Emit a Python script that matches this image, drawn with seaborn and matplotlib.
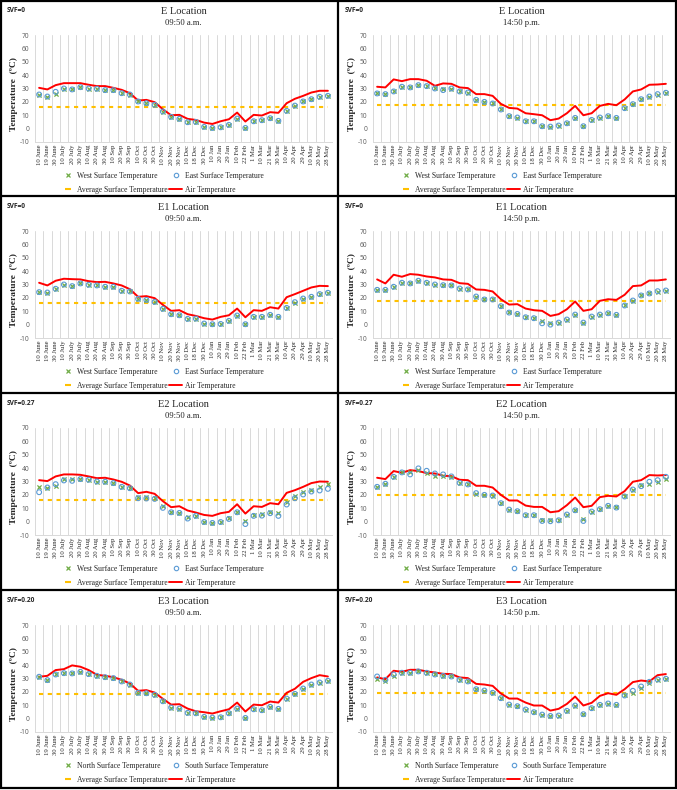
import numpy as np
import pandas as pd
import matplotlib
matplotlib.use("Agg")
import matplotlib.pyplot as plt
from matplotlib.lines import Line2D
from matplotlib.patches import Rectangle
import seaborn as sns

# ---------------- data ----------------
dates = ["10 June", "19 June", "30 June", "10 July", "20 July", "30 July", "10 Aug", "20 Aug",
         "30 Aug", "10 Sep", "20 Sep", "30 Sep", "10 Oct", "20 Oct", "30 Oct", "10 Nov", "20 Nov",
         "30 Nov", "10 Dec", "18 Dec", "30 Dec", "10 Jan", "20 Jan", "29 Jan", "10 Feb", "22 Feb",
         "1 Mar", "10 Mar", "21 Mar", "30 Mar", "10 Apr", "20 Apr", "29 Apr", "10 May", "20 May", "28 May"]
y_ticks = [-10, 0, 10, 20, 30, 40, 50, 60, 70]

E_am_air = [30.5, 29.3, 32.5, 34, 34, 34, 32.8, 31.8, 31.8, 30.5, 29, 26.5, 21, 21.5, 19.8, 14.5, 10, 10.3,
            7.3, 6.5, 4.5, 3.5, 5.5, 7, 12, 5.3, 10.3, 9.8, 12.3, 11.8, 19, 22.3, 24.5, 27, 28.3, 28.3]
E_am_west = [25.5, 24, 25.8, 30, 29.3, 31, 30, 29.8, 28.8, 28.8, 26.5, 25.5, 20.3, 19, 17.8, 12.8, 8.8, 7.3,
             4.8, 5, 1.3, 0.5, 1, 2.8, 7.5, 0.5, 5.5, 6.3, 7.8, 5.8, 13.3, 16.8, 20.3, 22, 23.8, 24.5]
E_am_east = [25.5, 24, 27.5, 30, 29.3, 31, 30, 29.8, 28.8, 28.8, 26.5, 25.5, 20.3, 19, 17.8, 12.8, 8.8, 7.3,
             4.8, 5, 1.3, 0.5, 1, 2.8, 7.5, 0.5, 5.5, 6.3, 7.8, 5.8, 13.3, 17.2, 20.3, 22, 23.8, 24.5]
E_am_avg = 16.5

E_pm_air = [31.3, 30.8, 36.8, 35.5, 37, 37, 35.8, 32, 33.8, 33.5, 30.8, 30.3, 25.8, 25.8, 24.5, 18.5, 15.5, 15,
            11.5, 10.8, 10, 6.3, 7.5, 11.5, 17, 10, 11.5, 17, 18.5, 17.5, 21.8, 27.8, 29.3, 32.8, 33, 33.5]
E_pm_west = [26.3, 25.8, 27.8, 31.3, 30.8, 32.5, 31.8, 30.5, 29.5, 30, 27.8, 27, 21.5, 20, 18.8, 14.3, 9.3, 8.3,
             5.5, 5.5, 1.8, 1.5, 2.3, 4, 8, 1.8, 6.5, 8.3, 9.3, 8, 15.3, 18.3, 22, 24, 25, 26.3]
E_pm_east = [26.3, 25.8, 27.8, 31.3, 30.8, 32.5, 31.8, 30, 28.8, 30, 27.8, 27, 21.5, 20, 18.8, 14.3, 9.3, 8.3,
             5.5, 5.5, 1.8, 1.5, 2.3, 4, 8, 1.8, 6.5, 8.3, 9.3, 8, 15.3, 18.3, 22, 24, 25.8, 26.8]
E_pm_avg = 17.5

E1_am_air = [31.3, 29.3, 32.8, 34.3, 34, 33.8, 32.5, 31.8, 32, 30.8, 29.3, 26.5, 20.8, 21.3, 19.8, 14.8, 10.3, 10.8,
             7.8, 6.5, 4.8, 3.8, 5.8, 7, 12, 5.5, 10.8, 10.3, 13, 12, 20.5, 22.8, 25.3, 27.8, 29, 28.8]
E1_am_west = [24.3, 24, 26.8, 30, 28.8, 30.8, 29.8, 29.3, 28.3, 28.3, 25.3, 24.8, 19.3, 18.5, 17, 11.8, 7.8, 7,
              4.3, 4.5, 0.8, 0.3, 0.5, 2.8, 6.8, 0.3, 5.8, 5.8, 7.3, 5.8, 12.5, 16.5, 19.5, 20.8, 22.8, 23.8]
E1_am_east = [24.3, 24, 26.8, 30, 28.8, 30.8, 29.8, 29.3, 28.3, 28.3, 25.3, 24.8, 19.3, 18.5, 17, 11.8, 7.8, 7,
              4.3, 4.5, 0.8, 0.3, 0.5, 2.8, 6.8, 0.3, 5.8, 5.8, 7.3, 5.8, 12.5, 16.8, 19.5, 20.8, 22.8, 23.8]
E1_am_avg = 16.0

E1_pm_air = [33.8, 30.8, 37.3, 35.8, 37.8, 37.3, 36, 35.3, 33.8, 33.5, 31, 30.5, 26.3, 26, 24.8, 19, 15, 15.3,
             12, 10.8, 10.3, 6.5, 7.8, 11.5, 17.3, 10.3, 11.5, 17.8, 19, 18.5, 22.3, 28.8, 29.3, 33, 33, 33.8]
E1_pm_west = [26, 26, 28.3, 31.3, 30.8, 32.8, 31.3, 30, 29.5, 29.3, 27, 26.3, 21, 19.5, 18.8, 13.8, 9.8, 8,
              5.5, 4.8, 2.5, 1.5, 1.5, 3.8, 7.5, 1.5, 6, 7.5, 8.5, 7.3, 14.3, 18, 21.8, 23.3, 24.5, 25.5]
E1_pm_east = [26, 26, 28.3, 31.3, 30.8, 32.8, 31.3, 30, 29.5, 29.3, 27, 26.3, 21, 18.8, 18.8, 13.8, 9, 8,
              5.5, 4.8, 1, 0, 1.5, 3.8, 7.5, 1.5, 6, 7.5, 8.5, 7.3, 14.3, 18, 21.8, 23.3, 25, 25.5]
E1_pm_avg = 17.8

E2_am_air = [31, 30.3, 33.8, 35.3, 35.3, 35, 33.8, 32.5, 32.8, 31.5, 29.8, 27, 21.3, 22.3, 20.8, 15.3, 10.8, 11.5,
             8.3, 6.8, 5, 4.3, 6.3, 7.3, 13, 6, 11.5, 11, 13.8, 13, 21.5, 23.5, 26, 28.8, 30, 29.8]
E2_am_west = [26, 25.5, 27, 31.8, 31.5, 31.8, 31.3, 30, 29.8, 28.8, 26, 25, 18.5, 18.3, 17.8, 11.5, 7, 6.5,
              3.3, 4.3, -0.3, -1, -0.3, 3, 7, 0.5, 5.3, 5.8, 7.3, 6.5, 14.3, 19.5, 22, 24, 25.8, 27.8]
E2_am_east = [22, 25.5, 28, 30.8, 30.5, 31.8, 31.3, 30, 29.8, 28.8, 26, 25, 17.5, 17.3, 17, 10.3, 7, 6.5,
              2.3, 4.3, -0.3, -1, -0.3, 2, 7, -1.8, 4.3, 4.5, 6.3, 4.3, 12.8, 17.5, 20.3, 22.5, 23.3, 24.5]
E2_am_avg = 16.0

E2_pm_air = [32.8, 31.8, 37.8, 36.5, 38.5, 37.8, 36.3, 36, 34.3, 34, 31.3, 31, 26.8, 26.8, 25.5, 20, 15.8, 15.8,
             12, 11, 11, 7, 7.8, 12.3, 18, 10.8, 11.8, 18.3, 19.3, 18.8, 22.8, 29.8, 31, 34.8, 34.5, 34.8]
E2_pm_west = [26, 28.3, 33.5, 36.8, 36.8, 38.5, 36.3, 33.8, 33.8, 33, 29, 27.8, 20.5, 20, 19.5, 13.8, 9, 7.8,
              4.8, 4.8, 1.5, 1, 1, 5.3, 8.5, 2.3, 7.5, 9.3, 11.8, 11.3, 18.8, 24, 27.3, 28.3, 29.8, 31.8]
E2_pm_east = [26, 28.3, 33.5, 36.8, 35.3, 39.8, 38, 36, 35.3, 33.8, 29, 27.8, 21.3, 20, 19.5, 13.8, 9, 7.8,
              4.8, 4.8, 0.5, 0.3, 1, 5.3, 8.5, 0.5, 7.5, 9.3, 11.8, 10.5, 18.8, 24, 26.5, 29.8, 31, 33.5]
E2_pm_avg = 20.0

E3_am_air = [31.3, 32, 36.3, 37, 39.8, 38.8, 36.3, 32.8, 32, 31, 29, 26.3, 20.8, 21.3, 19.5, 14.8, 10.5, 10.8,
             7.5, 5.5, 4.8, 3.8, 5.5, 7, 12, 5.3, 10.5, 10, 12.8, 12, 19.3, 22.3, 27.5, 30.3, 32.5, 31.5]
E3_am_north = [31.3, 28.8, 33, 34, 33.8, 35, 33.3, 32, 31, 30.3, 27.8, 25.5, 19.3, 19, 17.8, 13, 8.3, 7.5,
               4.3, 4, 1.3, 0.8, 1, 4, 7.5, 0.5, 7, 6.3, 8.8, 7.3, 15, 18.5, 22.5, 25.5, 27, 28.3]
E3_am_south = [31.3, 28.8, 33, 34, 33.8, 35, 33.3, 32, 31, 30.3, 27.8, 25.5, 19.3, 19, 17.8, 13, 8.3, 7.5,
               4.3, 4, 1.3, 0.8, 1, 4, 7.5, 0.5, 7, 6.3, 8.8, 7.3, 15, 18.5, 22.5, 25.5, 27, 28.3]
E3_am_avg = 18.3

E3_pm_air = [30.8, 29.5, 35.8, 35, 36.5, 36.5, 35.3, 34.5, 33.5, 33.3, 30.8, 30.3, 26, 25.5, 24.5, 18.8, 15, 15,
             12, 9.8, 9.8, 6, 7.3, 11, 16.5, 9.8, 11.8, 17, 19, 17.8, 22, 27.3, 28.5, 27.8, 32.5, 33.3]
E3_pm_north = [30, 27.8, 32, 34.3, 34, 35.3, 34.3, 33, 32, 31.5, 29, 27.8, 22, 20.5, 19.3, 15.3, 10.5, 9.3,
               6.8, 4.8, 3, 2, 2.3, 5.8, 9.8, 3.3, 7.8, 10.3, 11.3, 10.3, 17.3, 19.5, 22.8, 26.5, 28.8, 30]
E3_pm_south = [31.5, 29, 33, 34.3, 34.3, 35.3, 34.3, 33, 32, 31.5, 29, 27.8, 22, 21, 19.3, 15.3, 10.5, 9.3,
               6.8, 4.8, 3, 2, 2.3, 5.8, 9.8, 3.3, 7.8, 10.3, 11.3, 10.3, 17.3, 20.8, 24, 27.5, 29.3, 29.8]
E3_pm_avg = 19.5

panels = [
    ("SVF=0", "E Location", "09:50 a.m.", E_am_west, E_am_east, E_am_avg, E_am_air, ("West", "East")),
    ("SVF=0", "E Location", "14:50 p.m.", E_pm_west, E_pm_east, E_pm_avg, E_pm_air, ("West", "East")),
    ("SVF=0", "E1 Location", "09:50 a.m.", E1_am_west, E1_am_east, E1_am_avg, E1_am_air, ("West", "East")),
    ("SVF=0", "E1 Location", "14:50 p.m.", E1_pm_west, E1_pm_east, E1_pm_avg, E1_pm_air, ("West", "East")),
    ("SVF=0.27", "E2 Location", "09:50 a.m.", E2_am_west, E2_am_east, E2_am_avg, E2_am_air, ("West", "East")),
    ("SVF=0.27", "E2 Location", "14:50 p.m.", E2_pm_west, E2_pm_east, E2_pm_avg, E2_pm_air, ("West", "East")),
    ("SVF=0.20", "E3 Location", "09:50 a.m.", E3_am_north, E3_am_south, E3_am_avg, E3_am_air, ("North", "South")),
    ("SVF=0.20", "E3 Location", "14:50 p.m.", E3_pm_north, E3_pm_south, E3_pm_avg, E3_pm_air, ("North", "South")),
]

# ---------------- style ----------------
sns.set_style("white")
plt.rcParams["font.family"] = ["Liberation Serif", "DejaVu Serif"]

W, H = 677, 790
fig = plt.figure(figsize=(W / 100, H / 100), dpi=100)

GREEN = "#70AD47"
BLUE = "#5B9BD5"
ORANGE = "#FFC000"
RED = "#FF0000"
GRID = "#D9D9D9"

row_tops = [0, 196, 393, 590]
col_lefts = [0, 338]


def fx(x):
    return x / W


def fy(y):
    return 1 - y / H


x_pos = np.arange(len(dates))

for i, (svf, title, sub, s1, s2, avg, air, names) in enumerate(panels):
    r, c = divmod(i, 2)
    pl, pt = col_lefts[c], row_tops[r]
    ax_l, ax_r = pl + 35, pl + 332
    ax_t, ax_b = pt + 35, pt + 142
    ax = fig.add_axes([fx(ax_l), fy(ax_b), (ax_r - ax_l) / W, (ax_b - ax_t) / H])

    df = pd.DataFrame({"pos": x_pos, "s1": s1, "s2": s2, "air": air})

    ax.hlines(avg, x_pos[0], x_pos[-1], color=ORANGE, lw=1.5, linestyles=(0, (2, 2.2)), zorder=2)
    sns.lineplot(data=df, x="pos", y="air", ax=ax, color=RED, lw=1.4, zorder=3)
    sns.scatterplot(data=df, x="pos", y="s1", ax=ax, marker="x", color=GREEN, s=9,
                    linewidth=0.9, zorder=4)
    sns.scatterplot(data=df, x="pos", y="s2", ax=ax, marker="o", s=12, facecolor="none",
                    edgecolor=BLUE, linewidth=0.8, zorder=5)

    ax.set_xlim(-0.5, len(dates) - 0.5)
    ax.set_ylim(-10, 70)
    ax.set_yticks(y_ticks)
    ax.set_yticklabels([str(v) for v in y_ticks], family=["Open Sans", "DejaVu Sans"],
                       fontsize=4.8, color="#595959")
    ax.set_xticks(x_pos)
    ax.set_xticklabels(dates, rotation=90, fontsize=4.8)
    ax.set_xticks(np.arange(-0.5, len(dates), 1.0), minor=True)
    ax.grid(which="minor", axis="x", color=GRID, lw=0.7)
    ax.grid(which="major", visible=False)
    ax.tick_params(axis="both", which="both", length=0)
    ax.tick_params(axis="y", pad=4)
    ax.tick_params(axis="x", pad=2)
    for s in ["top", "right", "left"]:
        ax.spines[s].set_visible(False)
    ax.spines["bottom"].set_color(GRID)
    ax.spines["bottom"].set_linewidth(0.7)
    ax.set_xlabel("")
    ax.set_ylabel("Temperature  (\u00baC)", fontsize=6.8, fontweight="bold")
    ax.yaxis.set_label_coords(-0.056, 0.45)

    cx = (ax_l + ax_r) / 2
    fig.text(fx(cx), fy(pt + 12), title, ha="center", va="center", fontsize=7.5)
    fig.text(fx(cx), fy(pt + 23), sub, ha="center", va="center", fontsize=6.2)
    fig.text(fx(pl + 7), fy(pt + 10), svf, ha="left", va="center", fontsize=4.8, fontweight="bold",
             family=["Open Sans", "DejaVu Sans"])

    handles = [
        Line2D([], [], ls="none", marker="x", color=GREEN, ms=3, mew=0.9),
        Line2D([], [], ls="none", marker="_", color=ORANGE, ms=4, mew=1.5),
        Line2D([], [], ls="none", marker="o", mfc="none", mec=BLUE, ms=3.2, mew=0.8),
        Line2D([], [], color=RED, lw=1.4),
    ]
    labels = [f"{names[0]} Surface Temperature", "Average Surface Temperature",
              f"{names[1]} Surface Temperature", "Air Temperature"]
    ax.legend(handles, labels, ncol=2, loc="upper left",
              bbox_to_anchor=(fx(pl + 62), fy(pt + 172)), bbox_transform=fig.transFigure,
              frameon=False, fontsize=5.5, handlelength=1.6, handletextpad=0.4,
              columnspacing=0.2, labelspacing=0.75, borderpad=0, borderaxespad=0)

# panel borders
lw = 1.6
fig.add_artist(Rectangle((0.002, fy(788)), 0.996, (788 - 1) / H, transform=fig.transFigure,
                         fill=False, ec="black", lw=lw))
fig.add_artist(Line2D([fx(338), fx(338)], [fy(1), fy(788)], transform=fig.transFigure, color="black", lw=lw))
for yb in row_tops[1:]:
    fig.add_artist(Line2D([0.002, 0.998], [fy(yb), fy(yb)], transform=fig.transFigure, color="black", lw=lw))

fig.savefig("out.png", dpi=100)
